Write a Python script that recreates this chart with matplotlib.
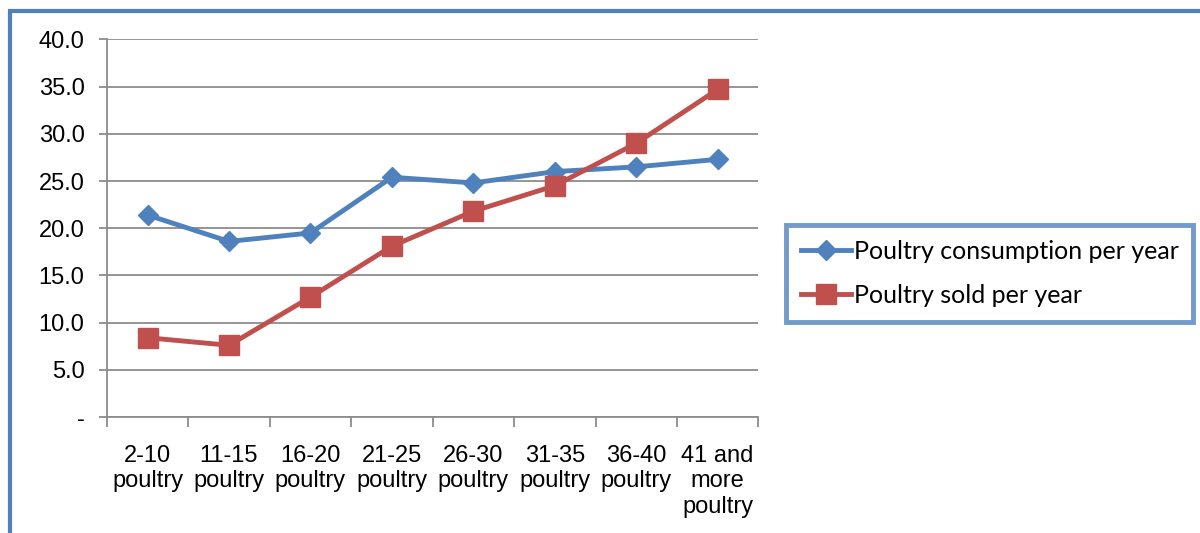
import matplotlib.pyplot as plt
from matplotlib.patches import Rectangle
from matplotlib.ticker import FuncFormatter, FixedLocator

# data
categories = ["2-10\npoultry", "11-15\npoultry", "16-20\npoultry", "21-25\npoultry",
              "26-30\npoultry", "31-35\npoultry", "36-40\npoultry", "41 and\nmore\npoultry"]
consumption = [21.4, 18.6, 19.5, 25.4, 24.8, 26.0, 26.5, 27.3]
sold = [8.4, 7.6, 12.7, 18.1, 21.8, 24.5, 29.0, 34.7]

blue = "#4F81BD"
red = "#C0504D"
grid = "#8C8C8C"

plt.rcParams['font.family'] = ['Liberation Sans', 'DejaVu Sans']

fig = plt.figure(figsize=(12, 5.33), dpi=100)
ax = fig.add_axes([0.089, 0.2176, 0.543, 0.7084])

x = list(range(len(categories)))
ax.plot(x, consumption, color=blue, lw=3.5, marker='D', ms=10,
        label="Poultry consumption per year")
ax.plot(x, sold, color=red, lw=3.5, marker='s', ms=14,
        label="Poultry sold per year")

ax.set_xlim(-0.5, len(categories) - 0.5)
ax.set_ylim(0, 40)
ax.set_yticks([0, 5, 10, 15, 20, 25, 30, 35, 40])
ax.yaxis.set_major_formatter(FuncFormatter(lambda v, p: "-" if v == 0 else "%.1f" % v))
ax.yaxis.grid(True, color=grid, lw=1.3)
ax.set_axisbelow(True)

# category labels sit between the boundary ticks, Excel style
ax.xaxis.set_major_locator(FixedLocator([i - 0.5 for i in range(len(categories) + 1)]))
ax.xaxis.set_major_formatter(FuncFormatter(lambda v, p: ""))
ax.xaxis.set_minor_locator(FixedLocator(x))
ax.set_xticklabels(categories, minor=True, linespacing=1.2)
ax.tick_params(axis='x', which='minor', length=0, labelsize=17, pad=20)
ax.tick_params(axis='x', which='major', length=7, color=grid, width=1.3)
ax.tick_params(axis='y', length=6, color=grid, width=1.3, labelsize=17, pad=10)

for s in ["top", "right"]:
    ax.spines[s].set_visible(False)
for s in ["left", "bottom"]:
    ax.spines[s].set_color(grid)
    ax.spines[s].set_linewidth(1.3)

leg = ax.legend(loc='upper left', bbox_to_anchor=(0.655, 0.578),
                bbox_transform=fig.transFigure, fancybox=False,
                prop={'family': 'Lato', 'size': 18}, handlelength=2.0,
                handletextpad=0.1, borderpad=0.6, labelspacing=0.85,
                borderaxespad=0)
leg.get_frame().set_edgecolor(blue)
leg.get_frame().set_linewidth(3.5)

# outer chart border
fig.patches.append(Rectangle((10 / 1200, -0.1), 1.2, 1.1 - 11 / 533,
                             transform=fig.transFigure, fill=False,
                             edgecolor=blue, lw=3))

fig.savefig("out.png", dpi=100)
